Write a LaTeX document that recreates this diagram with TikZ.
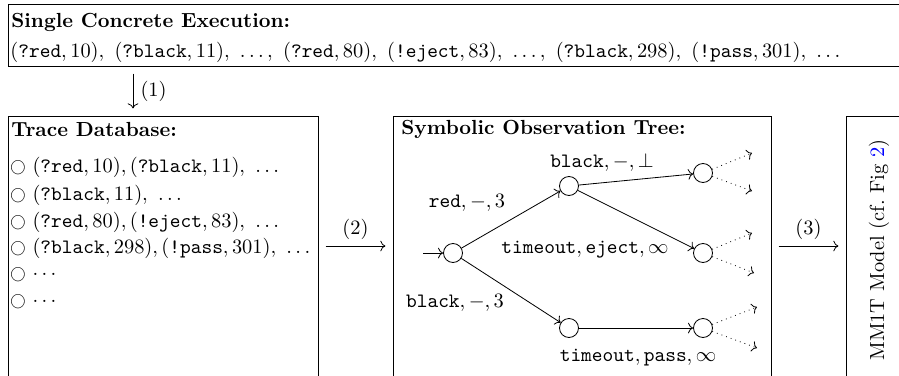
\documentclass[tikz,border=0pt]{standalone}
\usetikzlibrary{fit,arrows.meta}
\newcommand{\tdot}{\raisebox{0.5pt}{\scalebox{0.75}{$\bigcirc$}}}
\newcommand{\ttl}{\bfseries}
\begin{document}
\begin{tikzpicture}[x=0.49pt,y=-0.49pt,
  box/.style={draw, inner sep=0pt, line width=0.45pt},
  txt/.style={anchor=west, inner sep=1pt},
  st/.style={draw, circle, minimum size=19*0.49pt, inner sep=0pt},
  tr/.style={->, >=To},
  dot/.style={->, >=To, dotted},
  flow/.style={->, >=To, shorten <=3.5pt, shorten >=3.5pt}]
\useasboundingbox (0,0) rectangle (899,375);
\clip (0,0) rectangle (899,375);
% boxes
\node[box, fit={(8,4) (910,66)}] (top) {};
\node[box, fit={(8,116) (318,400)}] (trace) {};
\node[box, fit={(393,116) (771,400)}] (tree) {};
\node[box, fit={(846,116) (910,400)}] (mm) {};
% top box text
\node[txt] (t1) at (9,22) {\ttl Single Concrete Execution:};
\node[txt] (t2) at (8,52) {$(\texttt{?red}, 10),\ (\texttt{?black}, 11),\ \ldots,\ (\texttt{?red}, 80),\ (\texttt{!eject}, 83),\ \ldots,\ (\texttt{?black}, 298),\ (\texttt{!pass}, 301),\ \ldots$};
% arrow (1)
\coordinate (a1) at (133,0);
\draw[flow] (top.south -| a1) -- node[right, inner sep=3.5pt] (l1) {(1)} (trace.north -| a1);
% trace database
\node[txt] (d0) at (9,129) {\ttl Trace Database:};
\node[txt] (d1) at (8,167) {\tdot\ $(\texttt{?red}, 10), (\texttt{?black}, 11),\ \ldots$};
\node[txt] (d2) at (8,195) {\tdot\ $(\texttt{?black}, 11),\ \ldots$};
\node[txt] (d3) at (8,222) {\tdot\ $(\texttt{?red}, 80), (\texttt{!eject}, 83),\ \ldots$};
\node[txt] (d4) at (8,248) {\tdot\ $(\texttt{?black}, 298), (\texttt{!pass}, 301),\ \ldots$};
\node[txt] (d5) at (8,275) {\tdot\ $\cdots$};
\node[txt] (d6) at (8,302) {\tdot\ $\cdots$};
% arrow (2)
\coordinate (a2) at (0,246);
\draw[flow] (trace.east |- a2) -- node[above, inner sep=3pt] (l2) {(2)} (tree.west |- a2);
% tree
\node[txt] (s0) at (399,129) {\ttl Symbolic Observation Tree:};
\node[st] (r) at (453,253) {};
\node[st] (n1) at (569,186) {};
\node[st] (n2) at (569,328) {};
\node[st] (n3) at (703,173) {};
\node[st] (n4) at (703,253) {};
\node[st] (n5) at (703,328) {};
\coordinate (in) at (423,253);
\draw[tr] (in) -- (r);
\draw[tr] (r) -- (n1);
\draw[tr] (r) -- (n2);
\draw[tr] (n1) -- (n3);
\draw[tr] (n1) -- (n4);
\draw[tr] (n2) -- (n5);
\coordinate (n3u) at (752,153); \coordinate (n3d) at (752,191);
\coordinate (n4u) at (752,233); \coordinate (n4d) at (754,273);
\coordinate (n5u) at (757,307); \coordinate (n5d) at (757,348);
\draw[dot] (n3) -- (n3u); \draw[dot] (n3) -- (n3d);
\draw[dot] (n4) -- (n4u); \draw[dot] (n4) -- (n4d);
\draw[dot] (n5) -- (n5u); \draw[dot] (n5) -- (n5d);
\node (e1) at (467,203) {$\texttt{red}, -, 3$};
\node (e2) at (455,303) {$\texttt{black}, -, 3$};
\node (e3) at (602,162) {$\texttt{black}, -, \bot$};
\node (e4) at (585,250) {$\texttt{timeout}, \texttt{eject}, \infty$};
\node (e5) at (638,358) {$\texttt{timeout}, \texttt{pass}, \infty$};
% arrow (3)
\coordinate (a3) at (0,246);
\draw[flow] (tree.east |- a3) -- node[above, inner sep=3pt] (l3) {(3)} (mm.west |- a3);
% MM1T
\node[rotate=90] (m) at (879,250) {MM1T Model (cf.\ Fig~\textcolor{blue}{2})};
\end{tikzpicture}
\end{document}
